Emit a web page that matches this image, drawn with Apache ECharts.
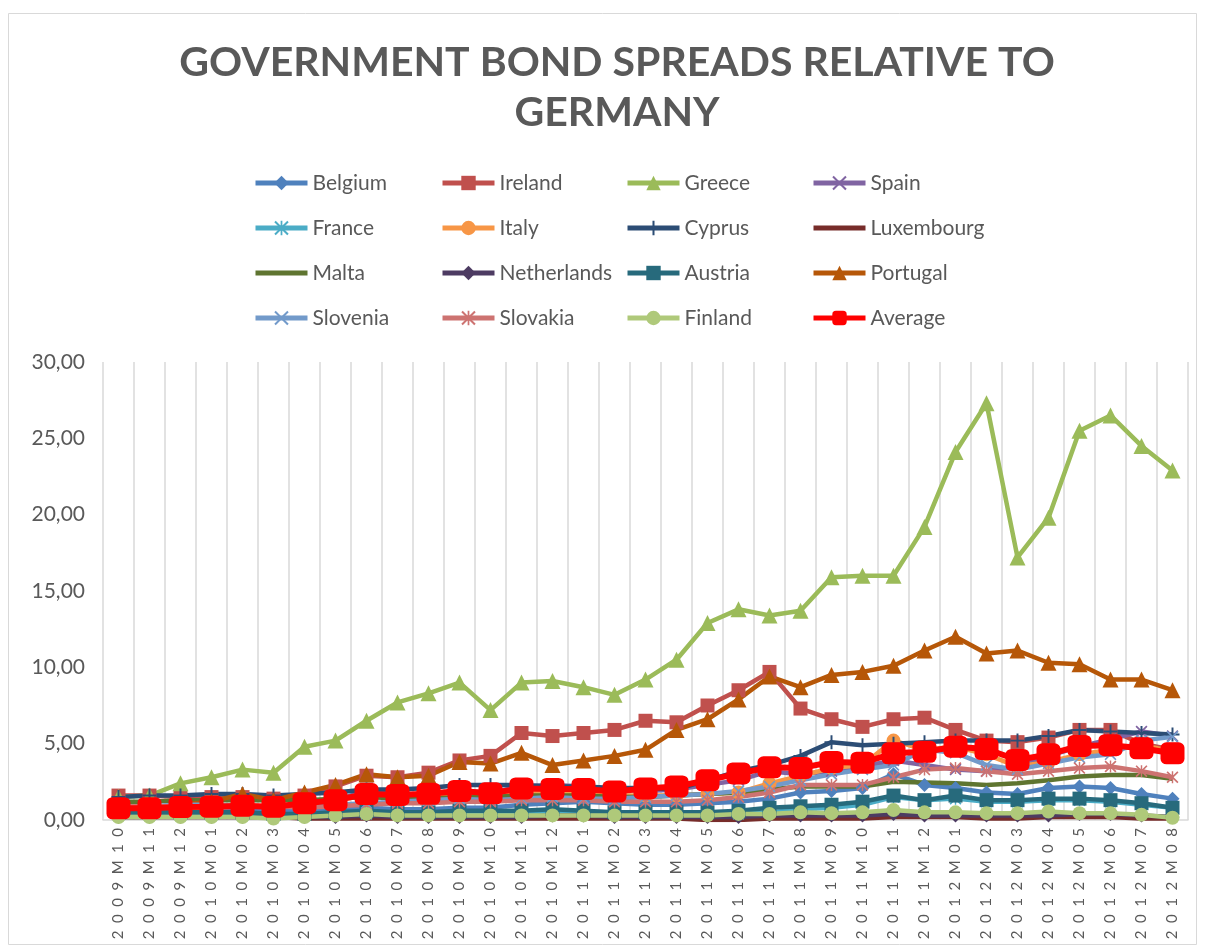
<!DOCTYPE html>
<html>
<head>
<meta charset="utf-8">
<script src="https://cdn.jsdelivr.net/npm/echarts@6/dist/echarts.min.js"></script>
<style>
  html, body { margin: 0; padding: 0; background: #ffffff; }
  #chart { width: 1205px; height: 950px; }
</style>
</head>
<body>
<div id="chart"></div>
<script>
// Monthly categories
const months = [
  '2009M10','2009M11','2009M12',
  '2010M01','2010M02','2010M03','2010M04','2010M05','2010M06','2010M07','2010M08','2010M09','2010M10','2010M11','2010M12',
  '2011M01','2011M02','2011M03','2011M04','2011M05','2011M06','2011M07','2011M08','2011M09','2011M10','2011M11','2011M12',
  '2012M01','2012M02','2012M03','2012M04','2012M05','2012M06','2012M07','2012M08'
];

// Spread over German bunds, percentage points
const belgium     = [0.5,0.5,0.5,0.5,0.6,0.6,0.6,0.7,0.8,0.7,0.7,0.8,0.8,1.0,1.1,1.2,1.1,1.0,1.0,1.1,1.2,1.4,1.8,1.9,2.1,3.0,2.3,2.1,1.8,1.7,2.1,2.2,2.1,1.7,1.4];
const ireland     = [1.6,1.6,1.5,1.5,1.5,1.4,1.6,2.2,2.9,2.8,3.1,3.9,4.2,5.7,5.5,5.7,5.9,6.5,6.4,7.5,8.5,9.7,7.3,6.6,6.1,6.6,6.7,5.9,5.2,5.1,5.4,5.9,5.9,5.0,4.6];
const greece      = [1.5,1.6,2.4,2.8,3.3,3.1,4.8,5.2,6.5,7.7,8.3,9.0,7.2,9.0,9.1,8.7,8.2,9.2,10.5,12.9,13.8,13.4,13.7,15.9,16.0,16.0,19.2,24.1,27.3,17.2,19.8,25.5,26.5,24.5,22.9];
const spain       = [0.6,0.7,0.7,0.7,0.8,0.8,0.9,1.3,1.9,1.7,1.7,1.9,1.8,2.2,2.3,2.2,2.0,1.9,2.0,2.3,2.6,3.2,3.0,3.2,3.5,3.9,3.6,3.3,3.2,3.5,4.2,4.8,5.3,5.8,5.5];
const france      = [0.3,0.3,0.3,0.3,0.3,0.3,0.3,0.4,0.4,0.4,0.4,0.4,0.4,0.4,0.5,0.5,0.4,0.4,0.4,0.4,0.4,0.5,0.7,0.8,1.0,1.5,1.3,1.4,1.2,1.2,1.3,1.3,1.2,1.0,0.8];
const italy       = [0.8,0.8,0.8,0.8,0.9,0.9,0.9,1.3,1.6,1.5,1.5,1.6,1.6,1.8,1.8,1.7,1.6,1.6,1.6,1.7,1.8,2.4,2.9,3.4,3.6,5.2,4.6,4.8,4.3,3.5,3.8,4.3,4.6,4.9,4.5];
const cyprus      = [1.5,1.6,1.6,1.7,1.7,1.6,1.7,1.8,2.0,2.0,2.1,2.3,2.3,2.3,2.2,2.2,2.1,2.1,2.0,2.6,3.2,3.6,4.2,5.1,4.9,5.0,5.1,5.2,5.2,5.2,5.5,5.9,5.8,5.7,5.6];
const luxembourg  = [0.2,0.2,0.2,0.2,0.2,0.2,0.1,0.1,0.1,0.1,0.1,0.1,0.1,0.1,0.1,0.1,0.1,0.1,0.1,0.0,0.0,0.1,0.1,0.1,0.1,0.2,0.2,0.2,0.1,0.1,0.2,0.2,0.2,0.1,0.1];
const malta       = [1.2,1.2,1.3,1.3,1.3,1.3,1.3,1.4,1.5,1.4,1.4,1.5,1.5,1.6,1.6,1.6,1.5,1.5,1.6,1.7,1.8,2.0,2.2,2.2,2.2,2.5,2.45,2.4,2.3,2.4,2.6,2.85,2.95,2.95,2.7];
const netherlands = [0.2,0.2,0.2,0.2,0.2,0.2,0.2,0.2,0.3,0.2,0.2,0.2,0.2,0.2,0.3,0.3,0.2,0.2,0.2,0.2,0.2,0.3,0.3,0.3,0.3,0.4,0.3,0.3,0.3,0.3,0.3,0.4,0.4,0.3,0.2];
const austria     = [0.5,0.5,0.5,0.5,0.5,0.4,0.4,0.5,0.6,0.5,0.5,0.6,0.6,0.6,0.7,0.6,0.5,0.5,0.5,0.5,0.6,0.8,0.9,1.0,1.2,1.6,1.3,1.6,1.3,1.3,1.4,1.4,1.3,1.1,0.8];
const portugal    = [0.7,0.8,1.0,1.2,1.7,1.3,1.8,2.3,3.0,2.8,2.9,3.8,3.7,4.4,3.6,3.9,4.2,4.6,5.9,6.6,7.9,9.4,8.7,9.5,9.7,10.1,11.1,12.0,10.9,11.1,10.3,10.2,9.2,9.2,8.5];
const slovenia    = [0.9,0.9,1.0,1.0,0.9,0.9,0.9,1.0,1.1,1.2,1.3,1.4,1.3,1.4,1.5,1.4,1.4,1.5,1.6,1.7,1.9,2.2,2.6,3.0,3.3,3.6,4.6,4.4,3.6,3.3,3.7,4.1,4.3,5.2,5.45];
const slovakia    = [0.9,0.9,0.9,0.9,0.9,0.9,0.8,0.9,1.0,1.1,1.1,1.2,1.2,1.3,1.3,1.3,1.2,1.2,1.2,1.3,1.5,1.8,2.3,2.3,2.3,2.8,3.3,3.4,3.2,3.0,3.2,3.4,3.5,3.2,2.8];
const finland     = [0.2,0.2,0.2,0.2,0.2,0.1,0.2,0.3,0.4,0.3,0.3,0.3,0.3,0.3,0.3,0.3,0.3,0.3,0.3,0.3,0.4,0.4,0.5,0.45,0.5,0.65,0.5,0.5,0.45,0.45,0.55,0.45,0.45,0.35,0.15];
const average     = [0.77,0.77,0.85,0.87,0.94,0.87,1.1,1.3,1.7,1.64,1.72,1.9,1.75,2.07,2.03,2.03,1.86,2.07,2.2,2.6,3.05,3.45,3.4,3.8,3.75,4.37,4.47,4.8,4.65,3.93,4.3,4.85,4.9,4.7,4.37];

const yTicks = { min: 0, max: 30, step: 5 };

// Marker shapes drawn as filled paths
const SYM_PLUS = 'path://M8.6,0L11.4,0L11.4,8.6L20,8.6L20,11.4L11.4,11.4L11.4,20L8.6,20L8.6,11.4L0,11.4L0,8.6L8.6,8.6Z';
const SYM_X = 'path://M0,2L2,0L10,8L18,0L20,2L12,10L20,18L18,20L10,12L2,20L0,18L8,10Z';
const SYM_STAR = 'path://M0,2L2,0L10,8L18,0L20,2L12,10L20,18L18,20L10,12L2,20L0,18L8,10ZM8.8,0L11.2,0L11.2,20L8.8,20Z';

const FONT = 'Lato, "Open Sans", sans-serif';
const GREY = '#595959';

function line(name, data, color, symbol, size, width) {
  return {
    name: name,
    type: 'line',
    data: data,
    symbol: symbol,
    symbolSize: size,
    showSymbol: symbol !== 'none',
    lineStyle: { color: color, width: width || 4.5 },
    itemStyle: { color: color },
    emphasis: { disabled: true },
    animation: false
  };
}

const series = [
  line('Belgium', belgium, '#4F81BD', 'diamond', 14),
  line('Ireland', ireland, '#C0504D', 'rect', 14),
  line('Greece', greece, '#9BBB59', 'triangle', 16),
  line('Spain', spain, '#8064A2', SYM_X, 12),
  line('France', france, '#4BACC6', SYM_STAR, 12),
  line('Italy', italy, '#F79646', 'circle', 14),
  line('Cyprus', cyprus, '#2C4D75', SYM_PLUS, 14),
  line('Luxembourg', luxembourg, '#772C2A', 'none', 0),
  line('Malta', malta, '#5F7530', 'none', 0),
  line('Netherlands', netherlands, '#4D3B62', 'diamond', 14),
  line('Austria', austria, '#276A7C', 'rect', 14),
  line('Portugal', portugal, '#B65708', 'triangle', 16),
  line('Slovenia', slovenia, '#729ACA', SYM_X, 12),
  line('Slovakia', slovakia, '#CD7371', SYM_STAR, 12),
  line('Finland', finland, '#AFC97A', 'circle', 14),
  line('Average', average, '#FF0000', 'roundRect', [24, 22], 6)
];

// Lines drawn without markers show a plain line in the legend
const plainLines = ['Luxembourg', 'Malta'];

const legendCols = [
  { left: 248, names: ['Belgium', 'France', 'Malta', 'Slovenia'] },
  { left: 435, names: ['Ireland', 'Italy', 'Netherlands', 'Slovakia'] },
  { left: 620, names: ['Greece', 'Cyprus', 'Austria', 'Finland'] },
  { left: 806, names: ['Spain', 'Luxembourg', 'Portugal', 'Average'] }
];

const legends = legendCols.map(function (col) {
  return {
    data: col.names.map(function (n) {
      return plainLines.indexOf(n) >= 0 ? { name: n, itemStyle: { opacity: 0 } } : { name: n };
    }),
    orient: 'vertical',
    left: col.left,
    top: 165,
    itemWidth: 52,
    itemHeight: 18,
    itemGap: 19,
    selectedMode: false,
    lineStyle: { width: 5 },
    textStyle: { fontFamily: FONT, fontSize: 21, color: GREY, lineHeight: 26 }
  };
});

const chart = echarts.init(document.getElementById('chart'), null, { renderer: 'canvas' });
chart.setOption({
  backgroundColor: '#ffffff',
  animation: false,
  title: {
    text: 'GOVERNMENT BOND SPREADS RELATIVE TO\nGERMANY',
    left: 612,
    textAlign: 'center',
    top: 33,
    textStyle: { fontFamily: FONT, fontWeight: 'bold', fontSize: 41, color: GREY, lineHeight: 50 }
  },
  graphic: [{
    type: 'rect',
    shape: { x: 8.5, y: 13.5, width: 1188, height: 931 },
    style: { fill: 'none', stroke: '#d9d9d9', lineWidth: 1 },
    silent: true
  }],
  legend: legends,
  grid: { left: 103, right: 17, top: 362, bottom: 130, containLabel: false },
  xAxis: {
    type: 'category',
    data: months,
    boundaryGap: true,
    axisLine: { show: true, lineStyle: { color: '#d9d9d9', width: 1.5 } },
    axisTick: { show: false },
    splitLine: { show: true, interval: 0, lineStyle: { color: '#d9d9d9', width: 1.5 } },
    axisLabel: {
      interval: 0,
      rotate: 90,
      margin: 8,
      fontFamily: FONT,
      fontSize: 15,
      color: GREY,
      formatter: function (v) { return v.split('').join('\u2002'); }
    }
  },
  yAxis: {
    type: 'value',
    min: yTicks.min,
    max: yTicks.max,
    interval: yTicks.step,
    axisLine: { show: false },
    axisTick: { show: false },
    splitLine: { show: false },
    axisLabel: {
      margin: 18,
      fontFamily: FONT,
      fontSize: 21,
      color: GREY,
      formatter: function (v) { return v.toFixed(2).replace('.', ','); }
    }
  },
  series: series
});
</script>
</body>
</html>
